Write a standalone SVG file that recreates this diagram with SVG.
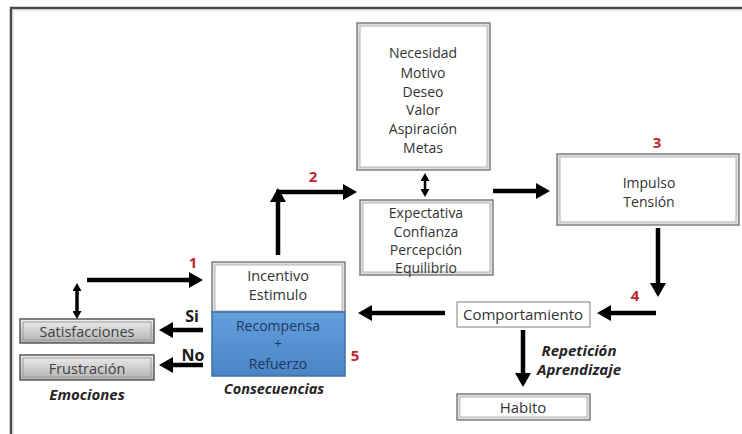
<svg xmlns="http://www.w3.org/2000/svg" width="742" height="434" viewBox="0 0 742 434">
<defs>
<style>
.t{font-family:"Open Sans","Liberation Sans",sans-serif;font-size:14px;fill:#333;text-anchor:middle;dominant-baseline:central}
.g{font-size:14.5px;fill:#404040}
.b{font-family:"Open Sans","Liberation Sans",sans-serif;font-weight:bold;font-style:italic;font-size:15px;fill:#262626;text-anchor:middle;dominant-baseline:central}
.n{font-family:"Open Sans","Liberation Sans",sans-serif;font-weight:bold;font-size:15px;fill:#c0262d;text-anchor:middle;dominant-baseline:central}
.sn{font-family:"Open Sans","Liberation Sans",sans-serif;font-weight:bold;font-size:16px;fill:#1a1a1a;text-anchor:middle;dominant-baseline:central}
.outer{fill:#dedede;stroke:#7f7f7f;stroke-width:1.5}
.inner{fill:#ffffff;stroke:#b5b5b5;stroke-width:1}
.conn{fill:none;stroke:#000;stroke-width:4.5}
.thin{fill:none;stroke:#000;stroke-width:2.5}
</style>
<linearGradient id="gray" x1="0" y1="0" x2="0" y2="1">
<stop offset="0" stop-color="#f0f0f0"/><stop offset="1" stop-color="#b0b0b0"/>
</linearGradient>
<linearGradient id="blue" x1="0" y1="0" x2="0" y2="1">
<stop offset="0" stop-color="#62a0dc"/><stop offset="1" stop-color="#4a84c4"/>
</linearGradient>
<marker id="ah" viewBox="0 0 14 16" refX="2" refY="8" markerWidth="14" markerHeight="16" markerUnits="userSpaceOnUse" orient="auto">
<path d="M0,0 L14,8 L0,16 z" fill="#000"/>
</marker>
<marker id="sm" viewBox="0 0 8 9" refX="2" refY="4.5" markerWidth="8" markerHeight="9" markerUnits="userSpaceOnUse" orient="auto-start-reverse">
<path d="M0,0 L8,4.5 L0,9 z" fill="#000"/>
</marker>
</defs>
<rect width="742" height="434" fill="#fff"/>
<path d="M11,434 V8 H742" fill="none" stroke="#4a4a4a" stroke-width="2.5"/>
<path d="M13,434 V10 H742" fill="none" stroke="#d0d0d0" stroke-width="1"/>

<g id="necesidad">
<rect class="outer" x="357" y="23" width="133" height="147"/>
<rect class="inner" x="360" y="26" width="127" height="141"/>
<text class="t" x="423" y="52">Necesidad</text>
<text class="t" x="423" y="72">Motivo</text>
<text class="t" x="423" y="91">Deseo</text>
<text class="t" x="423" y="109">Valor</text>
<text class="t" x="423" y="128">Aspiración</text>
<text class="t" x="423" y="147">Metas</text>
</g>
<g id="expectativa">
<rect class="outer" x="360" y="200" width="133" height="75"/>
<rect class="inner" x="363" y="203" width="127" height="69"/>
<text class="t" x="426" y="212">Expectativa</text>
<text class="t" x="426" y="231">Confianza</text>
<text class="t" x="426" y="249">Percepción</text>
<text class="t" x="426" y="267">Equilibrio</text>
</g>
<g id="impulso">
<rect class="outer" x="557" y="154" width="182" height="71"/>
<rect class="inner" x="560" y="157" width="176" height="65"/>
<text class="t" x="649" y="182">Impulso</text>
<text class="t" x="649" y="201">Tensión</text>
</g>
<g id="comportamiento">
<rect x="457" y="302" width="133" height="25" fill="#fff" stroke="#7f7f7f" stroke-width="1"/>
<text class="t" x="523" y="314" style="font-size:15px">Comportamiento</text>
</g>
<g id="habito">
<rect class="outer" x="457" y="394" width="133" height="26"/>
<rect class="inner" x="460" y="397" width="127" height="20"/>
<text class="t" x="523" y="407" style="font-size:15px">Habito</text>
</g>
<g id="incentivo">
<rect class="outer" x="212" y="262" width="133" height="50"/>
<rect class="inner" x="215" y="265" width="127" height="46"/>
<text class="t" x="278" y="275" style="font-size:14.5px">Incentivo</text>
<text class="t" x="278" y="294" style="font-size:14.5px">Estimulo</text>
</g>
<g id="recompensa">
<rect x="212" y="312" width="133" height="64" fill="url(#blue)" stroke="#3d6fa8" stroke-width="1.5"/>
<text class="t" x="278" y="325" style="fill:#1f3864">Recompensa</text>
<text class="t" x="278" y="343" style="fill:#1f3864;font-size:14px">+</text>
<text class="t" x="278" y="363" style="fill:#1f3864">Refuerzo</text>
</g>
<g id="satisfacciones">
<rect x="20" y="319" width="134" height="24" fill="url(#gray)" stroke="#5a5a5a" stroke-width="1.5"/>
<rect x="23" y="322" width="128" height="18" fill="none" stroke="#9a9a9a" stroke-width="1"/>
<text class="t g" x="87" y="331">Satisfacciones</text>
</g>
<g id="frustracion">
<rect x="20" y="355" width="134" height="25" fill="url(#gray)" stroke="#5a5a5a" stroke-width="1.5"/>
<rect x="23" y="358" width="128" height="19" fill="none" stroke="#9a9a9a" stroke-width="1"/>
<text class="t g" x="87" y="368">Frustración</text>
</g>

<g id="labels">
<text class="n" x="193" y="262">1</text>
<text class="n" x="313" y="176">2</text>
<text class="n" x="657" y="142">3</text>
<text class="n" x="635" y="295">4</text>
<text class="n" x="355" y="355">5</text>
<text class="sn" x="192" y="316">Si</text>
<text class="sn" x="193" y="355">No</text>
<text class="b" x="87" y="394">Emociones</text>
<text class="b" x="274" y="388" style="font-size:14.5px">Consecuencias</text>
<text class="b" x="579" y="350">Repetición</text>
<text class="b" x="579" y="369">Aprendizaje</text>
</g>

<g id="connectors">
<path class="conn" d="M87,280 H191" marker-end="url(#ah)"/>
<path class="conn" d="M278,255 V200" marker-end="url(#ah)"/>
<path class="conn" d="M276,192 H345" marker-end="url(#ah)"/>
<path class="conn" d="M493,191 H538" marker-end="url(#ah)"/>
<path class="conn" d="M658,228 V285" marker-end="url(#ah)"/>
<path class="conn" d="M656,313 H609" marker-end="url(#ah)"/>
<path class="conn" d="M445,313 H370" marker-end="url(#ah)"/>
<path class="conn" d="M523,330 V375" marker-end="url(#ah)"/>
<path class="conn" d="M203,330 H171" marker-end="url(#ah)"/>
<path class="conn" d="M203,365 H171" marker-end="url(#ah)"/>
<path class="thin" d="M425,179 V191" marker-start="url(#sm)" marker-end="url(#sm)"/>
<path class="conn" style="stroke-width:3.5" d="M77,289 V313" marker-start="url(#sm)" marker-end="url(#sm)"/>
</g>
</svg>
